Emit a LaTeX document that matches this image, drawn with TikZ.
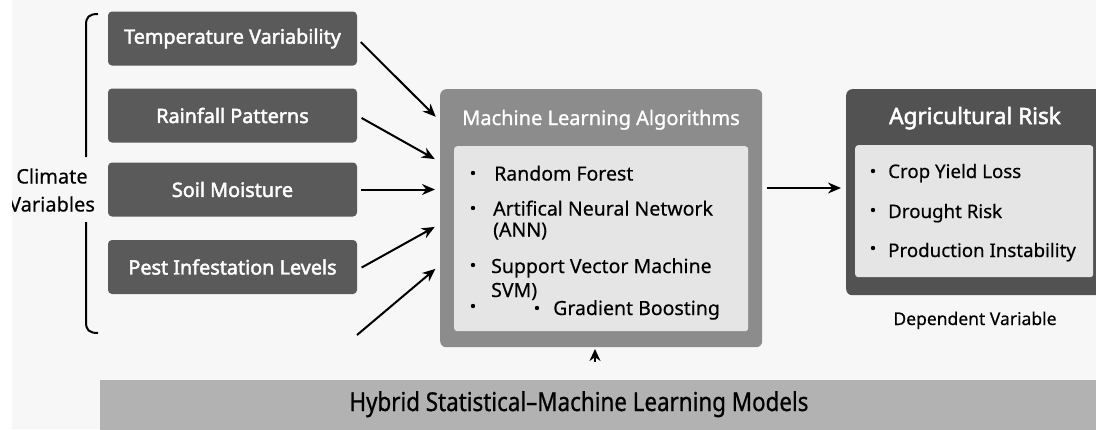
\documentclass[tikz,border=0pt]{standalone}
\usepackage{fontspec}
\setmainfont{Noto Sans}
\newfontfamily\narrowfont[FakeStretch=0.86,FakeBold=0.8]{Noto Sans}
\newfontfamily\heavyfont[FakeBold=2.2]{Noto Sans}
\newfontfamily\itemfont[FakeBold=0.4]{Noto Sans}
\usetikzlibrary{arrows.meta}

\definecolor{bgcol}{HTML}{F7F7F7}
\definecolor{varcol}{HTML}{5A5A5A}
\definecolor{mlcol}{HTML}{8C8C8C}
\definecolor{innercol}{HTML}{E5E5E5}
\definecolor{riskcol}{HTML}{525252}
\definecolor{hybcol}{HTML}{B2B2B2}

\tikzset{
  varbox/.style={fill=varcol, rounded corners=4pt, minimum width=249pt,
    minimum height=54pt, text=white, font=\heavyfont\fontsize{19.8}{22}\selectfont},
  outerbox/.style={rounded corners=6pt, anchor=north west},
  innerbox/.style={fill=innercol, rounded corners=3pt, anchor=north west},
  boxtitle/.style={text=white, anchor=base, font=\addfontfeatures{FakeBold=1}\fontsize{20}{22}\selectfont},
  item/.style={anchor=base west, inner sep=0pt, font=\itemfont\fontsize{19.5}{22}\selectfont},
  dotmark/.style={circle, fill=black, inner sep=0pt, minimum size=4.4pt},
  arr/.style={-{Stealth[length=13pt,width=11pt]}, line width=2pt},
}

\begin{document}
\begin{tikzpicture}[x=1pt,y=-1pt]
%\draw[help lines] (0,0) grid (1096,429);
\useasboundingbox (0,0) rectangle (1096,429);
\fill[bgcol] (0,0) rectangle (1096,429);

% climate variables
\node[varbox] (temp) at (232.5,38.5) {Temperature Variability};
\node[varbox] (rain) at (232.5,115.5) {Rainfall Patterns};
\node[varbox] (soil) at (232.5,189.5) {Soil Moisture};
\node[varbox] (pest) at (232.5,267) {Pest Infestation Levels};

\draw[line width=2pt] (98,14) .. controls (89,14) and (86,17) .. (86,25) -- (86,157);
\draw[line width=2pt] (86,222) -- (86,322) .. controls (86,330) and (89,333) .. (98,333);
\node[align=center, font=\itemfont\fontsize{20}{28}\selectfont] (clim) at (52,190) {Climate\\Variables};

% machine learning algorithms
\node[outerbox, fill=mlcol, minimum width=322pt, minimum height=258pt] (ml) at (440,89) {};
\node[boxtitle] (mltitle) at (601,125) {Machine Learning Algorithms};
\node[innerbox, minimum width=294pt, minimum height=185pt] (mlin) at (454,146) {};
\node[dotmark] (d1) at (473,173) {};
\node[item] (rf) at (494,180.5) {Random Forest};
\node[dotmark] (d2) at (473,208) {};
\node[item] (ann) at (493,215.5) {Artifical Neural Network};
\node[item] (annb) at (493,236.5) {(ANN)};
\node[dotmark] (d3) at (473,265) {};
\node[item] (svm) at (491,273) {Support Vector Machine};
\node[item] (svmb) at (491,297) {SVM)};
\node[dotmark] (d4) at (473,306) {};
\node[dotmark] (d5) at (537,308) {};
\node[item] (gb) at (553,315) {Gradient Boosting};

% agricultural risk
\node[outerbox, fill=riskcol, minimum width=262pt, minimum height=206pt] (risk) at (846,89) {};
\node[boxtitle, font=\heavyfont\fontsize{22.5}{24}\selectfont] (risktitle) at (975,124) {Agricultural Risk};
\node[innerbox, minimum width=238pt, minimum height=132pt] (riskin) at (855,145) {};
\node[dotmark] (r1) at (873,171) {};
\node[item, font=\itemfont\fontsize{18.7}{22}\selectfont] (crop) at (888,178) {Crop Yield Loss};
\node[dotmark] (r2) at (873,210) {};
\node[item, font=\itemfont\fontsize{18.7}{22}\selectfont] (drought) at (888,218) {Drought Risk};
\node[dotmark] (r3) at (873,248) {};
\node[item, font=\itemfont\fontsize{18.7}{22}\selectfont] (prod) at (888,257) {Production Instability};
\node[anchor=base, font=\itemfont\fontsize{17.5}{20}\selectfont] (dep) at (975,325) {Dependent Variable};

% hybrid band
\node[fill=hybcol, anchor=north west, minimum width=996pt, minimum height=50pt] (hyb) at (100,380) {};
\node[anchor=base, font=\narrowfont\fontsize{26}{28}\selectfont] (hybtxt) at (579,411) {Hybrid Statistical–Machine Learning Models};

% connectors
\coordinate (in1) at (440,121);
\coordinate (in2) at (440,162);
\coordinate (in3) at (440,189.5);
\coordinate (in4) at (440,224);
\coordinate (in5) at (440,265);
\coordinate (free) at (357,335);
\coordinate (mlout) at (767,188);
\coordinate (riskend) at (846,188);
\coordinate (tipbase) at (595,362);
\coordinate (tip) at (595,349);

\draw[arr, shorten <=5pt, shorten >=6pt] (temp.east) -- (in1);
\draw[arr, shorten <=5pt, shorten >=6pt] (rain.east) -- (in2);
\draw[arr, shorten <=4pt, shorten >=5pt] (soil.east) -- (in3);
\draw[arr, shorten <=5pt, shorten >=6pt] ([yshift=-3pt]pest.east) -- (in4);
\draw[arr, shorten >=6pt] (free) -- (in5);
\draw[arr, shorten >=5pt] (mlout) -- (riskend);
\draw[-{Stealth[length=12pt,width=11pt]}, line width=2pt] (tipbase) -- (tip);

\fill[white] (0,0) rectangle (12,429);
\end{tikzpicture}
\end{document}
